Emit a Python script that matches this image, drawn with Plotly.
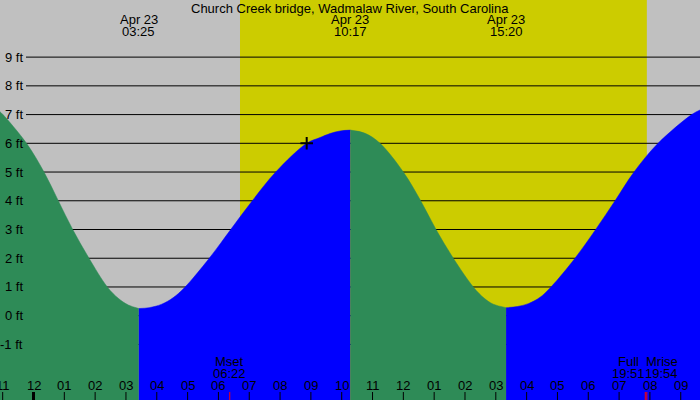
import plotly.graph_objects as go

# ---------------- data (hours since midnight Apr 23, heights in ft) ----------------
fall1_t = [-1.087, -0.99, -0.227, 0.341, 0.805, 1.272, 1.801, 2.395, 2.751, 3.076, 3.417]
fall1_h = [7.10, 7.0, 6.0, 5.0, 4.0, 3.0, 2.0, 1.0, 0.606, 0.372, 0.25]

rise1_t = [3.417, 3.75, 4.16, 4.536, 4.893, 5.704, 6.399, 7.099, 7.859, 8.864, 9.296, 9.62, 9.95, 10.283]
rise1_h = [0.25, 0.28, 0.40, 0.63, 0.97, 2.0, 3.0, 4.0, 5.0, 6.0, 6.20, 6.34, 6.43, 6.46]

fall2_t = [10.283, 10.757, 11.243, 11.999, 12.563, 13.06, 13.621, 14.27, 14.627, 14.919, 15.333]
fall2_h = [6.46, 6.35, 6.0, 5.0, 4.0, 3.0, 2.0, 1.0, 0.606, 0.40, 0.28]

rise2_t = [15.333, 15.70, 16.055, 16.435, 16.791, 17.57, 18.24, 18.868, 19.484, 20.263, 21.356, 21.625]
rise2_h = [0.28, 0.32, 0.42, 0.64, 1.0, 2.0, 3.0, 4.0, 5.0, 6.0, 7.0, 7.16]

extreme_t = [3.417, 10.283, 15.333]
extreme_date = ["Apr 23", "Apr 23", "Apr 23"]
extreme_time = ["03:25", "10:17", "15:20"]

sunrise_t = 6.70
sunset_t = 19.90

hour_t = list(range(-1, 22))
hour_labels = ["11", "12", "01", "02", "03", "04", "05", "06", "07", "08", "09", "10",
               "11", "12", "01", "02", "03", "04", "05", "06", "07", "08", "09"]

ft_levels = [-1, 0, 1, 2, 3, 4, 5, 6, 7, 8, 9]
ft_labels = [f"{v} ft" for v in ft_levels]

moon_t = [6.367, 19.85, 19.90]
moon_name = ["Mset", "Full", "Mrise"]
moon_time = ["06:22", "19:51", "19:54"]
moon_shift = [0, -17, 15]

marker_t = [8.864]
marker_h = [6.0]

title = "Church Creek bridge, Wadmalaw River, South Carolina"

# ---------------- figure ----------------
X_RANGE = [-1.087, 21.625]
Y_RANGE = [-2.934, 10.988]
FALL = "#2e8b57"
RISE = "#0000ff"
FONT = dict(family="Liberation Sans, Arial, sans-serif", size=13, color="#000000")

fig = go.Figure()

segments = [(fall1_t, fall1_h, FALL), (rise1_t, rise1_h, RISE),
            (fall2_t, fall2_h, FALL), (rise2_t, rise2_h, RISE)]
for ts, hs, col in segments:
    fig.add_trace(go.Scatter(x=[ts[0], ts[-1]], y=[Y_RANGE[0]] * 2, mode="lines",
                             line=dict(width=0, color=col), hoverinfo="skip", showlegend=False))
    fig.add_trace(go.Scatter(x=ts, y=hs, mode="lines",
                             line=dict(width=0.5, color=col, shape="spline", smoothing=1),
                             fill="tonexty", fillcolor=col, hoverinfo="skip", showlegend=False))

fig.add_trace(go.Scatter(x=marker_t, y=marker_h, mode="markers",
                         marker=dict(symbol="cross-thin", size=9, line=dict(color="black", width=2)),
                         hoverinfo="skip", showlegend=False))

shapes = []
shapes.append(dict(type="rect", xref="x", yref="paper", x0=sunrise_t, x1=sunset_t, y0=0, y1=1,
                   fillcolor="#cccc00", line=dict(width=0), layer="below"))
for v in ft_levels:
    shapes.append(dict(type="line", xref="paper", yref="y", x0=26 / 700, x1=1, y0=v, y1=v,
                       line=dict(color="black", width=1), layer="below"))
for t in hour_t:
    shapes.append(dict(type="line", xref="x", yref="paper", x0=t, x1=t, y0=0, y1=8 / 400,
                       line=dict(color="black", width=3 if t % 24 == 0 else 1), layer="above"))
for t in moon_t:
    shapes.append(dict(type="line", xref="x", yref="paper", x0=t, x1=t, y0=0, y1=8 / 400,
                       line=dict(color="#ff0000", width=1), layer="above"))

ann = []
ann.append(dict(text=title, xref="paper", yref="paper", x=0.5, y=1 - 8 / 400, showarrow=False,
                xanchor="center", yanchor="middle", font=FONT))
for t, d, tm in zip(extreme_t, extreme_date, extreme_time):
    ann.append(dict(text=d, xref="x", yref="paper", x=t, y=1 - 19.5 / 400, showarrow=False,
                    xanchor="center", yanchor="middle", font=FONT))
    ann.append(dict(text=tm, xref="x", yref="paper", x=t, y=1 - 31.5 / 400, showarrow=False,
                    xanchor="center", yanchor="middle", font=FONT))
for v, lab in zip(ft_levels, ft_labels):
    ann.append(dict(text=lab, xref="paper", yref="y", x=24.5 / 700, y=v, showarrow=False,
                    xanchor="right", yanchor="middle", font=FONT))
for t, lab in zip(hour_t, hour_labels):
    ann.append(dict(text=lab, xref="x", yref="paper", x=t, y=1 - 385.5 / 400, showarrow=False,
                    xanchor="center", yanchor="middle", font=FONT))
for t, nm, tm, sh in zip(moon_t, moon_name, moon_time, moon_shift):
    ann.append(dict(text=nm, xref="x", yref="paper", x=t, y=1 - 361.7 / 400, xshift=sh, showarrow=False,
                    xanchor="center", yanchor="middle", font=FONT))
    ann.append(dict(text=tm, xref="x", yref="paper", x=t, y=1 - 373.3 / 400, xshift=sh, showarrow=False,
                    xanchor="center", yanchor="middle", font=FONT))

fig.update_layout(
    width=700, height=400, margin=dict(l=0, r=0, t=0, b=0, pad=0),
    paper_bgcolor="#c0c0c0", plot_bgcolor="#c0c0c0",
    xaxis=dict(range=X_RANGE, visible=False, fixedrange=True),
    yaxis=dict(range=Y_RANGE, visible=False, fixedrange=True),
    shapes=shapes, annotations=ann, showlegend=False,
)

fig.write_html("out.html", config={"displayModeBar": False})
